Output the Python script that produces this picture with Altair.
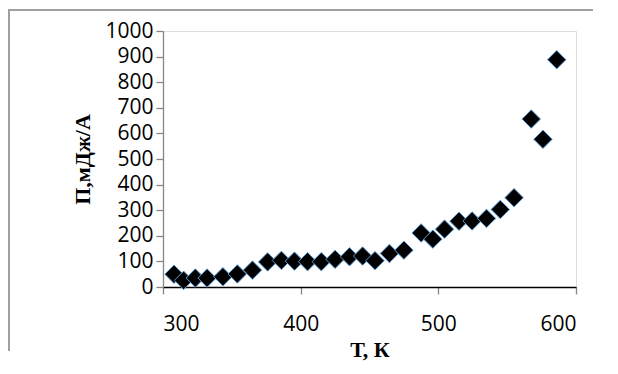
import altair as alt
import pandas as pd

# Temperature, K
T_K = [308, 315, 323.5, 332, 343.5, 354, 365, 376, 386, 395.5, 405, 415, 425,
       435.5, 445, 454, 464.5, 475, 487.5, 496, 504.5, 515, 524.5, 535, 545,
       555, 567.5, 576, 586]
# П, мДж/А
P_vals = [50, 26, 35, 35, 40, 51, 66, 98, 104, 101, 99, 99, 108,
          118, 121, 103, 131, 144, 211, 187, 226, 257, 258, 268, 303,
          349, 656, 577, 888]

x_ticks = [300, 400, 500, 600]
y_ticks = [0, 100, 200, 300, 400, 500, 600, 700, 800, 900, 1000]

df = pd.DataFrame({"T": T_K, "P": P_vals})

LABEL_FONT = "Open Sans"
TITLE_FONT = "Liberation Serif"

points = alt.Chart(df).mark_point(
    shape="diamond", filled=True, size=340, fill="black",
    stroke="#5B9BD5", strokeWidth=1, opacity=1
).encode(
    x=alt.X("T:Q",
            scale=alt.Scale(domain=[300, 600], nice=False, zero=False),
            axis=alt.Axis(values=x_ticks, title="Т, К", grid=False, format="d",
                          domainColor="black", domainWidth=1.3,
                          tickColor="#868686", tickSize=7, tickWidth=1.3,
                          labelFont=LABEL_FONT, labelFontSize=21,
                          labelColor="black", labelPadding=19,
                          titleFont=TITLE_FONT, titleFontSize=22,
                          titleFontWeight="bold", titleColor="black",
                          titlePadding=5)),
    y=alt.Y("P:Q",
            scale=alt.Scale(domain=[0, 1000], nice=False),
            axis=alt.Axis(values=y_ticks, title="П,мДж/А", grid=False, format="d",
                          domainColor="#868686", domainWidth=1.3,
                          tickColor="#868686", tickSize=7, tickWidth=1.3,
                          labelFont=LABEL_FONT, labelFontSize=21,
                          labelColor="black", labelPadding=3,
                          titleFont=TITLE_FONT, titleFontSize=22,
                          titleFontWeight="bold", titleColor="black",
                          titlePadding=10))
)

border_left = alt.Chart(df).mark_rule(color="#A0A0A0", strokeWidth=1.3).encode(
    x=alt.value(-154.5), y=alt.value(-21), y2=alt.value(320)
)
border_top = alt.Chart(df).mark_rule(color="#A0A0A0", strokeWidth=1.3).encode(
    x=alt.value(-154.5), x2=alt.value(430), y=alt.value(-21)
)

chart = alt.layer(points, border_left, border_top).properties(
    width=413, height=256,
    autosize=alt.AutoSizeParams(type="none"),
    padding={"left": 155, "top": 23, "right": 32, "bottom": 78},
).configure_view(stroke=None).configure(background="white")

chart.save("out.html", embed_options={"renderer": "svg", "actions": False})
